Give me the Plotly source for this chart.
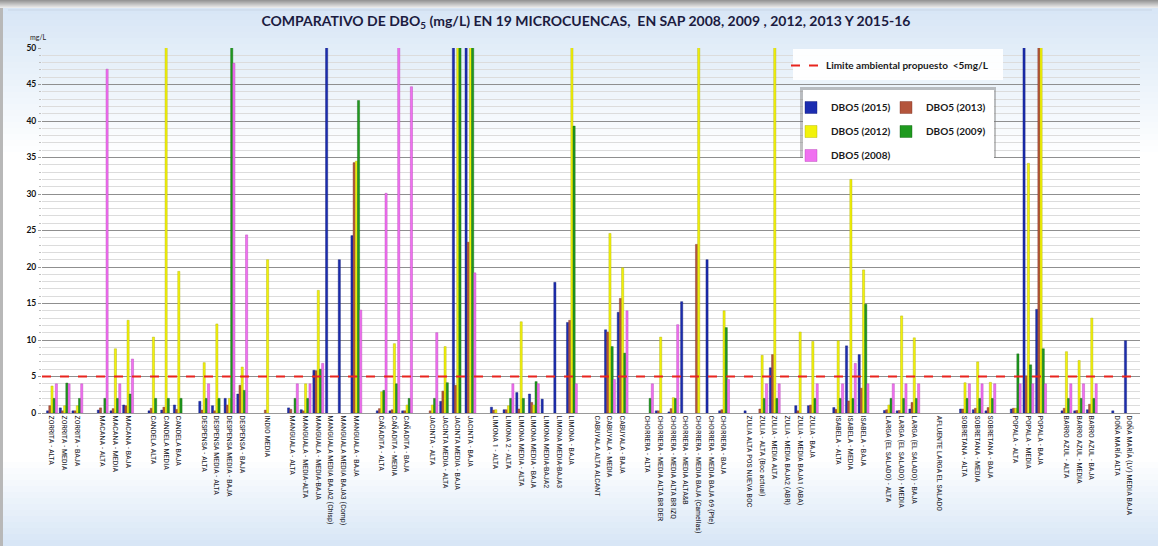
import plotly.graph_objects as go

N = None

# Monitoring stations, grouped by micro-watershed (a blank slot separates groups)
stations = [
    ["ZORRITA - ALTA", "ZORRITA - MEDIA", "ZORRITA - BAJA"],
    ["MACANA - ALTA", "MACANA - MEDIA", "MACANA - BAJA"],
    ["CANDELA ALTA", "CANDELA MEDIA", "CANDELA BAJA"],
    ["DESPENSA - ALTA", "DESPENSA MEDIA - ALTA", "DESPENSA MEDIA - BAJA", "DESPENSA - BAJA"],
    ["INDIO MEDIA"],
    ["MANGUALA - ALTA", "MANGUALA - MEDIA-ALTA", "MANGUALA - MEDIA-BAJA",
     "MANGUALA MEDIA BAJA2 (Chisp)", "MANGUALA MEDIA BAJA3 (Comp)", "MANGUALA - BAJA"],
    ["CAÑADITA - ALTA", "CAÑADITA - MEDIA", "CAÑADITA - BAJA"],
    ["JACINTA - ALTA", "JACINTA MEDIA - ALTA", "JACINTA MEDIA - BAJA", "JACINTA - BAJA"],
    ["LIMONA 1 - ALTA", "LIMONA 2 - ALTA", "LIMONA MEDIA - ALTA", "LIMONA MEDIA - BAJA",
     "LIMONA MEDIA-BAJA2", "LIMONA MEDIA-BAJA3", "LIMONA - BAJA"],
    ["CABUYALA ALTA ALCANT", "CABUYALA - MEDIA", "CABUYALA - BAJA"],
    ["CHORRERA - ALTA", "CHORRERA - MEDIA ALTA BR DER", "CHORRERA - MEDIA ALTA BR IZQ",
     "CHORRERA - MEDIA ALTA&B", "CHORRERA - MEDIA BAJA (Camellas)",
     "CHORRERA - MEDIA BAJA 69 (Pte)", "CHORRERA - BAJA"],
    ["ZULIA ALTA POS NUEVA BOC", "ZULIA - ALTA (Boc actual)", "ZULIA - MEDIA ALTA",
     "ZULIA - MEDIA BAJA2 (ABR)", "ZULIA - MEDIA BAJA1 (ABA)", "ZULIA - BAJA"],
    ["ISABELA - ALTA", "ISABELA - MEDIA", "ISABELA - BAJA"],
    ["LARGA (EL SALADO) - ALTA", "LARGA (EL SALADO) - MEDIA", "LARGA (EL SALADO) - BAJA"],
    ["AFLUENTE LARGA EL SALADO"],
    ["SOBRETANA - ALTA", "SOBRETANA - MEDIA", "SOBRETANA - BAJA"],
    ["POPALA - ALTA", "POPALA - MEDIA", "POPALA - BAJA"],
    ["BARRO AZUL - ALTA", "BARRO AZUL - MEDIA", "BARRO AZUL - BAJA"],
    ["DOÑA MARÍA ALTA", "DOÑA MARÍA (LV) MEDIA BAJA"],
]

# DBO5 (mg/L) per station; values above 50 run off the top of the scale
dbo_2015 = [
    [0.3, 0.7, 0.3], [0.4, 0.3, 1.1], [0.3, 0.4, 1.1], [1.6, 1.0, 2.0, 2.6], [N],
    [0.7, 0.45, 5.85, 60, 21.0, 24.3], [0.3, 0.3, 0.3], [N, 1.6, 60, 60],
    [0.8, 0.45, 2.8, 2.6, 1.9, 17.9, 12.4], [N, 11.4, 13.8],
    [N, 0.3, 0.15, 15.25, N, 21.0, 0.3], [0.3, N, 6.2, N, 1.0, 1.0],
    [0.75, 9.2, 8.0], [0.35, 0.3, 0.55], [N], [0.55, 0.45, 0.3],
    [0.55, 60, 14.2], [0.3, 0.3, 0.45], [0.3, 9.9],
]
dbo_2013 = [
    [1.0, 0.3, 0.3], [0.7, 0.6, 1.0], [0.65, 0.8, 0.5], [0.4, 0.3, 1.1, 3.8], [0.4],
    [0.5, 0.3, 5.8, N, N, 34.3], [0.6, 0.45, 0.3], [0.3, 3.0, 3.8, 23.4],
    [0.4, 0.45, 0.55, 1.45, N, N, 12.7], [N, 11.1, 15.7],
    [N, 0.3, 0.6, N, 23.1, N, 0.45], [N, 0.55, 8.0, N, 0.3, 1.1],
    [0.5, 1.65, 3.4], [0.45, 0.35, 1.45], [N], [0.55, 0.65, 0.75],
    [0.65, 5.1, 60], [0.65, 0.35, 1.2], [N, N],
]
dbo_2012 = [
    [3.7, 1.0, 1.0], [N, 8.8, 12.7], [10.4, 60, 19.4], [6.9, 12.2, 2.0, 6.3], [21.0],
    [N, 4.0, 16.8, N, N, 34.5], [2.9, 9.5, 1.1], [1.1, 9.1, 60, 60],
    [0.45, 1.0, 12.5, 1.1, N, N, 60], [N, 24.6, 19.9],
    [N, 10.4, 2.1, N, 60, N, 14.0], [N, 7.9, 60, N, 11.1, 9.8],
    [9.9, 32.0, 19.6], [1.1, 13.3, 10.3], [N], [4.15, 7.0, 4.2],
    [0.65, 34.2, 60], [8.4, 7.2, 13.0], [N, N],
]
dbo_2009 = [
    [2.0, 4.1, 2.0], [2.0, 2.0, 2.6], [2.0, 2.0, 2.0], [2.0, 2.0, 60, 3.1], [N],
    [2.0, 2.0, 6.0, N, N, 42.8], [3.1, 4.0, 2.0], [2.0, 4.15, 60, 60],
    [N, 2.0, 2.0, 4.3, N, N, 39.3], [N, 9.1, 8.2],
    [2.0, N, 2.0, N, N, N, 11.7], [N, 2.0, 2.0, N, N, 2.0],
    [2.0, 2.0, 14.9], [2.0, 2.0, 2.0], [N], [2.0, 2.0, 2.0],
    [8.1, 6.6, 8.8], [2.0, 2.0, 2.0], [N, N],
]
dbo_2008 = [
    [4.0, 4.0, 4.0], [47.1, 4.0, 7.4], [N, N, N], [4.0, N, 47.9, 24.4], [N],
    [4.0, 4.0, 6.8, N, N, 14.1], [30.1, 60, 44.7], [11.0, N, N, 19.2],
    [N, 4.0, N, 4.0, N, N, 4.0], [N, 4.6, 14.0],
    [4.0, N, 12.1, N, N, N, 4.6], [N, 4.0, 4.0, N, N, 4.0],
    [4.0, 6.8, 4.0], [4.0, 4.0, 4.0], [N], [4.0, 4.0, 4.0],
    [4.0, 4.0, 4.0], [4.0, 4.0, 4.0], [N, N],
]

limit_value = 5
y_ticks = [0, 5, 10, 15, 20, 25, 30, 35, 40, 45, 50]


def flatten(groups, blank):
    out = []
    for i, g in enumerate(groups):
        if i:
            out.append(blank)
        out.extend(g)
    return out


labels = flatten(stations, "")
x_pos = list(range(len(labels)))
tick_pos = [i for i, t in enumerate(labels) if t]
tick_txt = [t for t in labels if t]

series = [
    ("DBO5 (2015)", dbo_2015, "#1c2db0", "#0d1770", "legend"),
    ("DBO5 (2013)", dbo_2013, "#b4553c", "#7a3020", "legend3"),
    ("DBO5 (2012)", dbo_2012, "#f2f20a", "#a8a800", "legend"),
    ("DBO5 (2009)", dbo_2009, "#1f9a1f", "#0e5e0e", "legend3"),
    ("DBO5 (2008)", dbo_2008, "#f070f0", "#b040b0", "legend"),
]

W, H = 1158, 546
ML, MR, MT, MB = 42, 18, 48, 133
x_lo, x_hi = -0.79, len(labels) - 1 + 0.8

fig = go.Figure()

for name, vals, color, edge, leg in series:
    fig.add_trace(go.Bar(
        x=x_pos, y=flatten(vals, None), name=f"<b>{name}</b>",
        marker=dict(color=color, line=dict(color=edge, width=0.4)),
        legend=leg, legendgroup=name,
    ))

fig.add_trace(go.Scatter(
    x=[x_lo, x_hi], y=[limit_value, limit_value], mode="lines",
    line=dict(color="#e8251e", width=2.2, dash="dash"),
    name="<b>Limite ambiental propuesto  <5mg/L</b>", legend="legend2",
))

# helpers for placing decoration in pixel terms
pw, ph = W - ML - MR, H - MT - MB


def px_x(px):
    return (px - ML) / pw


def px_y(py):
    return (H - MB - py) / ph


shapes = []
# soft blue wash at the top and bottom of the frame
top_steps = 24
for i in range(top_steps):
    y0 = 8 + i * 6
    a = 0.6 * (1 - i / top_steps)
    shapes.append(dict(type="rect", xref="paper", yref="paper", layer="below",
                       x0=px_x(0), x1=px_x(W), y0=px_y(y0 + 6), y1=px_y(y0),
                       fillcolor=f"rgba(190,214,240,{a:.3f})", line_width=0))
bot_steps = 14
for i in range(bot_steps):
    y0 = 462 + i * 6
    a = 0.6 * (i + 1) / bot_steps
    shapes.append(dict(type="rect", xref="paper", yref="paper", layer="below",
                       x0=px_x(0), x1=px_x(W), y0=px_y(y0 + 6), y1=px_y(y0),
                       fillcolor=f"rgba(190,214,240,{a:.3f})", line_width=0))
# grey shadow band along the top edge and left edge
for i in range(8):
    g = 150 + i * 12
    shapes.append(dict(type="rect", xref="paper", yref="paper", layer="below",
                       x0=px_x(0), x1=px_x(W), y0=px_y(i + 1), y1=px_y(i),
                       fillcolor=f"rgb({g},{g},{g})", line_width=0))
shapes.append(dict(type="rect", xref="paper", yref="paper", layer="below",
                   x0=px_x(0), x1=px_x(3), y0=px_y(H), y1=px_y(8),
                   fillcolor="#b8b8b8", line_width=0))
shapes.append(dict(type="line", xref="paper", yref="paper", layer="below",
                   x0=px_x(8), x1=px_x(W - 6), y0=px_y(10), y1=px_y(10),
                   line=dict(color="#c9d6e6", width=1)))

# legend panels
shapes.append(dict(type="rect", xref="paper", yref="paper", layer="above",
                   x0=px_x(793), x1=px_x(1003), y0=px_y(80), y1=px_y(49),
                   fillcolor="rgba(255,255,255,0.92)", line_width=0))
shapes.append(dict(type="rect", xref="paper", yref="paper", layer="above",
                   x0=px_x(800), x1=px_x(996), y0=px_y(158), y1=px_y(87),
                   fillcolor="rgba(120,120,120,0.45)", line_width=0))
shapes.append(dict(type="rect", xref="paper", yref="paper", layer="above",
                   x0=px_x(803), x1=px_x(994), y0=px_y(159), y1=px_y(90),
                   fillcolor="#ffffff", line_width=0))

leg_font = dict(family="Lato, Open Sans, sans-serif", size=10, color="#1a1a1a")

fig.update_layout(
    width=W, height=H,
    margin=dict(l=ML, r=MR, t=MT, b=MB),
    paper_bgcolor="#ffffff", plot_bgcolor="rgba(0,0,0,0)",
    barmode="group", bargap=0.14, bargroupgap=0.0,
    title=dict(
        text="<b>COMPARATIVO DE DBO<sub>5</sub> (mg/L) EN 19 MICROCUENCAS,  EN SAP 2008, 2009 , 2012, 2013 Y 2015-16</b>",
        x=0.506, xanchor="center", y=0.962, yanchor="middle",
        font=dict(family="Lato, Open Sans, sans-serif", size=14, color="#1b1b40"),
    ),
    xaxis=dict(
        range=[x_lo, x_hi], tickmode="array", tickvals=tick_pos, ticktext=tick_txt,
        tickangle=90, showgrid=False, zeroline=False,
        showline=True, linecolor="#9a9a9a", linewidth=1, ticks="",
        tickfont=dict(family="Liberation Sans Narrow, Roboto Condensed, Roboto, sans-serif",
                      size=8, color="#1a1a28"),
    ),
    yaxis=dict(
        range=[0, 50], tickmode="array", tickvals=y_ticks,
        showgrid=True, gridcolor="#8f8f8f", gridwidth=1.4,
        zeroline=False, showline=False, ticks="outside", ticklen=3,
        tickcolor="#9a9a9a",
        minor=dict(dtick=1, showgrid=True, gridcolor="#dcdcdc", gridwidth=1,
                   ticks="outside", ticklen=2, tickcolor="#c0c0c0"),
        tickfont=dict(family="Lato, Open Sans, sans-serif", size=8.5, color="#111111",
                      weight="bold"),
    ),
    legend=dict(
        x=px_x(791), y=px_y(93), xanchor="left", yanchor="top",
        bgcolor="rgba(0,0,0,0)", borderwidth=0, font=leg_font,
        tracegroupgap=5, itemclick=False,
    ),
    legend3=dict(
        x=px_x(886), y=px_y(93), xanchor="left", yanchor="top",
        bgcolor="rgba(0,0,0,0)", borderwidth=0, font=leg_font,
        tracegroupgap=5, itemclick=False,
    ),
    legend2=dict(
        x=px_x(786), y=px_y(51), xanchor="left", yanchor="top",
        bgcolor="rgba(0,0,0,0)", borderwidth=0,
        font=dict(family="Lato, Open Sans, sans-serif", size=10, color="#1a1a1a"),
        itemclick=False,
    ),
    shapes=shapes,
    annotations=[dict(text="mg/L", xref="paper", yref="paper", x=px_x(38), y=px_y(37),
                      xanchor="center", yanchor="middle", showarrow=False,
                      font=dict(family="Lato, Open Sans, sans-serif", size=7, color="#222"))],
    showlegend=True,
)

fig.write_html("out.html")
